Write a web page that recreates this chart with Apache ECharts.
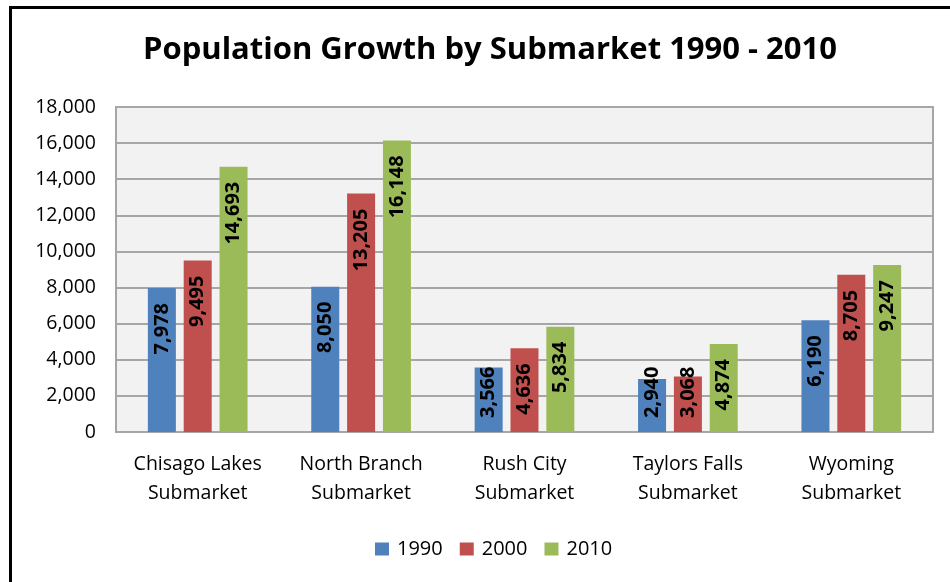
<!DOCTYPE html>
<html>
<head>
<meta charset="utf-8">
<script src="https://cdn.jsdelivr.net/npm/echarts@6/dist/echarts.min.js"></script>
<style>
html,body{margin:0;padding:0;background:#fff;}
#chart{position:absolute;left:0;top:0;width:950px;height:582px;}
#frame{position:absolute;left:9px;top:6px;width:950px;height:590px;border-left:3px solid #000;border-top:3px solid #000;pointer-events:none;}
</style>
</head>
<body>
<div id="chart"></div>
<div id="frame"></div>
<script>
const categories = ['Chisago Lakes\nSubmarket', 'North Branch\nSubmarket', 'Rush City\nSubmarket', 'Taylors Falls\nSubmarket', 'Wyoming\nSubmarket'];
const seriesNames = ['1990', '2000', '2010'];
const values1990 = [7978, 8050, 3566, 2940, 6190];
const values2000 = [9495, 13205, 4636, 3068, 8705];
const values2010 = [14693, 16148, 5834, 4874, 9247];
const yTicks = [0, 2000, 4000, 6000, 8000, 10000, 12000, 14000, 16000, 18000];

const colors = ['#4f81bd', '#c0504d', '#9bbb59'];
const FONT = 'Open Sans';
const fmt = v => v.toLocaleString('en-US');

function makeData(arr) {
  return arr.map(v => {
    if (v < 4000) {
      return { value: v, label: { position: 'insideBottom', align: 'left', distance: 14 } };
    }
    return v;
  });
}

const chart = echarts.init(document.getElementById('chart'), null, { renderer: 'canvas' });
const allSeries = [values1990, values2000, values2010].map((arr, i) => ({
  name: seriesNames[i],
  type: 'bar',
  data: makeData(arr),
  barWidth: 28,
  barGap: '28%',
  itemStyle: { color: colors[i] },
  label: {
    show: true,
    position: 'insideTop',
    rotate: 90,
    align: 'right',
    verticalAlign: 'middle',
    distance: 15,
    color: '#000',
    fontFamily: FONT,
    fontWeight: 'bold',
    fontSize: 20,
    formatter: p => fmt(p.value)
  }
}));

chart.setOption({
  animation: false,
  backgroundColor: '#fff',
  title: {
    text: 'Population Growth by Submarket 1990 - 2010',
    left: 485,
    textAlign: 'center',
    top: 30,
    textStyle: { fontFamily: FONT, fontWeight: 'bold', fontSize: 31, color: '#000' }
  },
  legend: {
    top: 534,
    left: 370,
    itemWidth: 14,
    itemHeight: 13,
    itemGap: 17,
    icon: 'rect',
    textStyle: { fontFamily: FONT, fontSize: 20, color: '#000', padding: [0, 0, 0, 3] },
    data: seriesNames
  },
  grid: {
    left: 116, right: 17, top: 107, bottom: 150,
    show: true,
    backgroundColor: '#f2f2f2',
    borderColor: '#a6a6a6',
    borderWidth: 2
  },
  xAxis: {
    type: 'category',
    data: categories,
    axisLine: { show: true, lineStyle: { color: '#a6a6a6', width: 2 } },
    axisTick: { show: false },
    axisLabel: {
      fontFamily: FONT, fontSize: 19.5, color: '#000', lineHeight: 29, margin: 18, interval: 0
    }
  },
  yAxis: {
    type: 'value',
    min: yTicks[0],
    max: yTicks[yTicks.length - 1],
    interval: 2000,
    axisLine: { show: true, lineStyle: { color: '#a6a6a6', width: 2 } },
    axisTick: { show: false },
    splitLine: { lineStyle: { color: '#a6a6a6', width: 2 } },
    axisLabel: {
      fontFamily: FONT, fontSize: 19.5, color: '#000', margin: 20,
      formatter: v => fmt(v)
    }
  },
  series: allSeries
});
</script>
</body>
</html>
